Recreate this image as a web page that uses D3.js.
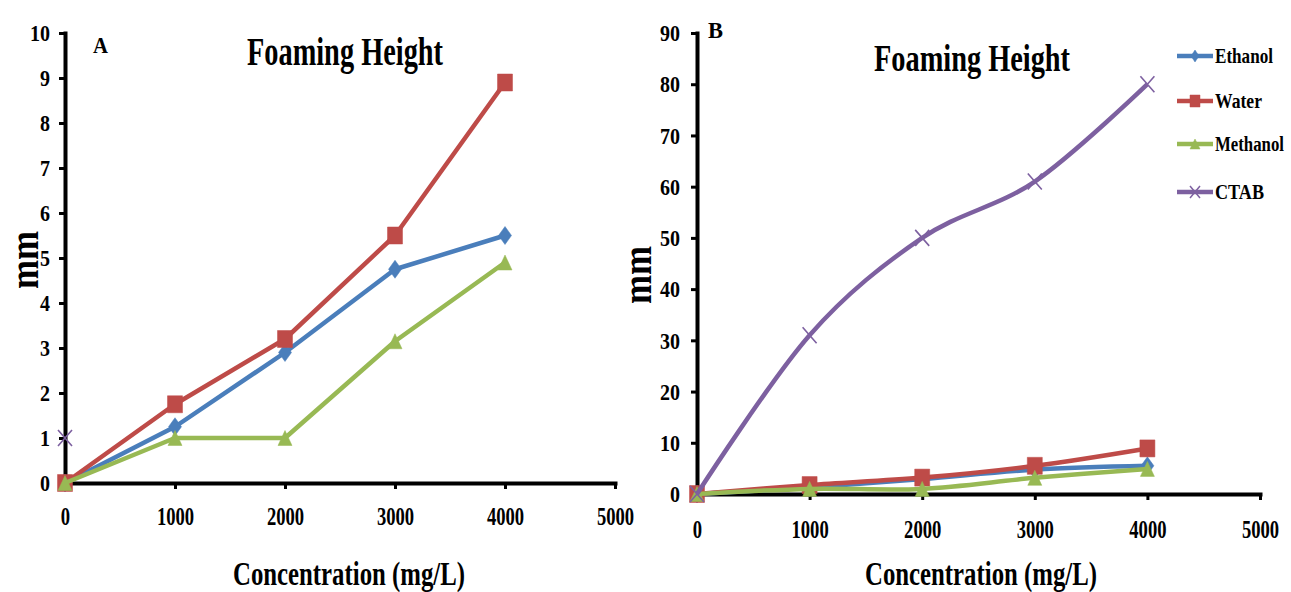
<!DOCTYPE html>
<html>
<head>
<meta charset="utf-8">
<script src="https://cdn.jsdelivr.net/npm/d3@7/dist/d3.min.js"></script>
<style>
  body { margin: 0; background: #fff; }
  text { font-family: "Liberation Serif", "Times New Roman", serif; font-weight: bold; fill: #000; }
</style>
</head>
<body>
<div id="chart"></div>
<script>
// values (mm of foam)
var conc = [0, 1000, 2000, 3000, 4000];
var ethanol = [0, 1.25, 2.9, 4.75, 5.5];
var water = [0, 1.75, 3.2, 5.5, 8.9];
var methanol = [0, 1, 1, 3.15, 4.9];
var ctabConcA = [0];      // panel A only shows one CTAB point
var ctabA = [1];
var ctabB = [0, 31, 50, 61, 80];

var seriesNames = ["Ethanol", "Water", "Methanol", "CTAB"];
var seriesColors = ["#4a7ebb", "#be4b48", "#98b954", "#7d60a0"];
var seriesMarkers = ["diamond", "square", "triangle", "cross"];

var xTicks = [0, 1000, 2000, 3000, 4000, 5000];
var yTicksA = [0, 1, 2, 3, 4, 5, 6, 7, 8, 9, 10];
var yTicksB = [0, 10, 20, 30, 40, 50, 60, 70, 80, 90];

var svgWidth = 1291;
var svgHeight = 592;

var svg = d3.select("#chart")
    .append("svg")
    .attr("width", svgWidth)
    .attr("height", svgHeight);

svg.append("rect").attr("width", svgWidth).attr("height", svgHeight).attr("fill", "#fff");

// marker shapes, w/h so they come out a bit narrow like the original
function markerPath(type, w, h) {
    var a = w / 2, b = h / 2;
    if (type == "diamond") return `M0,${-b}L${a},0L0,${b}L${-a},0Z`;
    if (type == "square") return `M${-a},${-b}H${a}V${b}H${-a}Z`;
    if (type == "triangle") return `M0,${-b}L${a},${b}H${-a}Z`;
    return `M${-a},${-b}L${a},${b}M${a},${-b}L${-a},${b}`;
}
var markerSize = {
    diamond: [13, 18],
    square: [15, 17],
    triangle: [14, 15],
    cross: [14, 16]
};

function squeeze(sel, perChar) {
    sel.attr("textLength", function(d) { return String(d).length * perChar; })
        .attr("lengthAdjust", "spacingAndGlyphs");
}

function drawPanel(p) {
    var xScale = d3.scaleLinear().domain([0, 5000]).range([p.left, p.right]);
    var yScale = d3.scaleLinear().domain([0, p.ymax]).range([p.bottom, p.top]);

    // y axis
    var yAxis = svg.append("g")
        .attr("transform", `translate(${p.left},0)`)
        .call(d3.axisLeft(yScale).tickValues(p.yTicks).tickFormat(d => String(d))
            .tickSize(6).tickSizeOuter(0).tickPadding(p.yPad));
    yAxis.select(".domain").attr("stroke-width", 4).attr("stroke-linecap", "square");
    yAxis.selectAll(".tick line").attr("stroke-width", 3);
    yAxis.selectAll(".tick text").style("font-size", "24px").call(squeeze, 10);

    // x axis - no thousands comma in the original
    var xAxis = svg.append("g")
        .attr("transform", `translate(0,${p.bottom})`)
        .call(d3.axisBottom(xScale).tickValues(xTicks).tickFormat(d => String(d))
            .tickSize(6).tickSizeOuter(0).tickPadding(p.xPad));
    xAxis.select(".domain").attr("stroke-width", 4).attr("stroke-linecap", "square");
    xAxis.selectAll(".tick line").attr("stroke-width", 3);
    xAxis.selectAll(".tick text").style("font-size", "25px").call(squeeze, 9.3);

    var line = d3.line()
        .x(d => xScale(d[0]))
        .y(d => yScale(d[1]))
        .curve(p.smooth ? d3.curveCardinal : d3.curveLinear);

    p.series.forEach(function(s) {
        var pts = s.xs.map((xv, i) => [xv, s.ys[i]]);
        if (pts.length > 1) {
            svg.append("path")
                .datum(pts)
                .attr("d", line)
                .attr("fill", "none")
                .attr("stroke", s.color)
                .attr("stroke-width", 4.5)
                .attr("stroke-linejoin", "round");
        }
        var sz = markerSize[s.marker];
        svg.selectAll(null)
            .data(pts)
            .enter()
            .append("path")
            .attr("transform", d => `translate(${xScale(d[0])},${yScale(d[1])})`)
            .attr("d", markerPath(s.marker, sz[0], sz[1]))
            .attr("fill", s.marker == "cross" ? "none" : s.color)
            .attr("stroke", s.color)
            .attr("stroke-width", s.marker == "cross" ? 1.6 : 0.5);
    });

    // titles
    svg.append("text")
        .attr("x", p.titleX).attr("y", p.titleY)
        .attr("text-anchor", "middle")
        .style("font-size", p.titleSize + "px")
        .attr("textLength", 196).attr("lengthAdjust", "spacingAndGlyphs")
        .text("Foaming Height");

    svg.append("text")
        .attr("x", p.letterX).attr("y", p.letterY)
        .style("font-size", "23px")
        .attr("textLength", 15).attr("lengthAdjust", "spacingAndGlyphs")
        .text(p.letter);

    svg.append("text")
        .attr("x", p.xLabelX).attr("y", 585)
        .attr("text-anchor", "middle")
        .style("font-size", "33px")
        .attr("textLength", 232).attr("lengthAdjust", "spacingAndGlyphs")
        .text("Concentration (mg/L)");

    svg.append("text")
        .attr("transform", `translate(${p.mmX},${p.mmY}) rotate(-90)`)
        .attr("text-anchor", "middle")
        .style("font-size", "42px")
        .attr("textLength", 58).attr("lengthAdjust", "spacingAndGlyphs")
        .text("mm");
}

// panel A
drawPanel({
    left: 65, right: 615, top: 33, bottom: 483, ymax: 10,
    yTicks: yTicksA, yPad: 9, xPad: 18, smooth: false,
    titleX: 345, titleY: 65, titleSize: 40,
    letter: "A", letterX: 93, letterY: 53,
    xLabelX: 349, mmX: 38, mmY: 260,
    series: [
        {xs: conc, ys: ethanol, color: seriesColors[0], marker: seriesMarkers[0]},
        {xs: conc, ys: water, color: seriesColors[1], marker: seriesMarkers[1]},
        {xs: conc, ys: methanol, color: seriesColors[2], marker: seriesMarkers[2]},
        {xs: ctabConcA, ys: ctabA, color: seriesColors[3], marker: seriesMarkers[3]}
    ]
});

// panel B
drawPanel({
    left: 697, right: 1260, top: 33, bottom: 494, ymax: 90,
    yTicks: yTicksB, yPad: 11, xPad: 20, smooth: true,
    titleX: 972, titleY: 71, titleSize: 38,
    letter: "B", letterX: 708, letterY: 38,
    xLabelX: 981, mmX: 651, mmY: 275,
    series: [
        {xs: conc, ys: ethanol, color: seriesColors[0], marker: seriesMarkers[0]},
        {xs: conc, ys: water, color: seriesColors[1], marker: seriesMarkers[1]},
        {xs: conc, ys: methanol, color: seriesColors[2], marker: seriesMarkers[2]},
        {xs: conc, ys: ctabB, color: seriesColors[3], marker: seriesMarkers[3]}
    ]
});

// legend on the right of B
var legendY = [56, 101, 144, 192];
var legendW = [58, 47, 69, 49];
var legendMarker = {diamond: [8, 12], square: [10, 12], triangle: [10, 10], cross: [10, 12]};
var legend = svg.append("g");
seriesNames.forEach(function(name, i) {
    var g = legend.append("g").attr("transform", `translate(0,${legendY[i]})`);
    g.append("line")
        .attr("x1", 1177).attr("x2", 1213)
        .attr("stroke", seriesColors[i])
        .attr("stroke-width", 4.5);
    var ms = legendMarker[seriesMarkers[i]];
    g.append("path")
        .attr("transform", "translate(1195,0)")
        .attr("d", markerPath(seriesMarkers[i], ms[0], ms[1]))
        .attr("fill", seriesMarkers[i] == "cross" ? "none" : seriesColors[i])
        .attr("stroke", seriesColors[i])
        .attr("stroke-width", seriesMarkers[i] == "cross" ? 1.5 : 0.5);
    // squash with a transform so the box really is narrow
    var t = g.append("text")
        .style("font-size", "21px")
        .text(name);
    var natural = t.node().getComputedTextLength();
    t.attr("transform", `translate(1215,7) scale(${legendW[i] / natural},1)`);
});
</script>
</body>
</html>
